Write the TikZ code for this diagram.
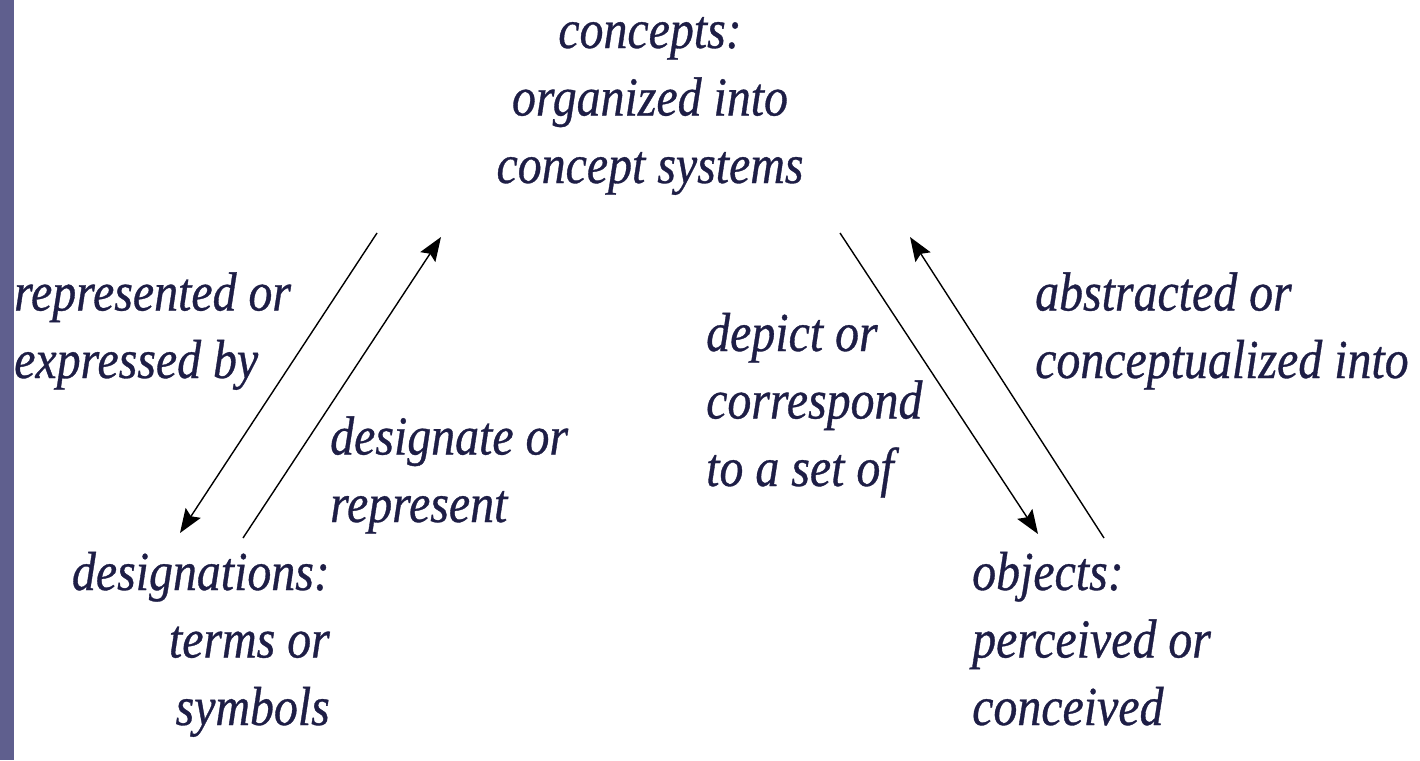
\documentclass[tikz,border=0pt]{standalone}
\usepackage{fontspec}
\setmainfont{Liberation Serif}[FakeStretch=0.87,FakeBold=0.6]
\usetikzlibrary{arrows.meta}
\definecolor{txtcol}{RGB}{30,30,70}
\definecolor{barcol}{RGB}{95,95,142}
\tikzset{
  lbl/.style={inner sep=0pt, text=txtcol, font=\fontsize{55}{67.5}\selectfont\itshape},
  link/.style={line width=1.4pt, -{Stealth[length=24pt,width=18pt,inset=4pt]}}
}
\begin{document}
\begin{tikzpicture}[x=1pt,y=-1pt]
\useasboundingbox (0,0) rectangle (1420,760);
\fill[white] (0,0) rectangle (1420,760);
\fill[barcol] (0,0) rectangle (14,760);
\node[lbl, anchor=base, align=center] (concepts) at (650,183) {concepts:\\organized into\\concept systems};
\node[lbl, anchor=base west, align=left] (repr) at (14,378) {represented or\\expressed by};
\node[lbl, anchor=base west, align=left] (desig) at (330,522) {designate or\\represent};
\node[lbl, anchor=base west, align=left] (depict) at (706,486) {depict or\\correspond\\to a set of};
\node[lbl, anchor=base west, align=left] (abstr) at (1035,378) {abstracted or\\conceptualized into};
\node[lbl, anchor=base east, align=right] (designations) at (330,725) {designations:\\terms or\\symbols};
\node[lbl, anchor=base west, align=left] (objects) at (972,725) {objects:\\perceived or\\conceived};
\coordinate (a1s) at (377,233);
\coordinate (a1e) at (180,533);
\coordinate (a2s) at (243,538);
\coordinate (a2e) at (441,237);
\coordinate (a3s) at (840,233);
\coordinate (a3e) at (1038,534);
\coordinate (a4s) at (1104,538);
\coordinate (a4e) at (910,237);
\draw[link] (a1s) -- (a1e);
\draw[link] (a2s) -- (a2e);
\draw[link] (a3s) -- (a3e);
\draw[link] (a4s) -- (a4e);
\end{tikzpicture}
\end{document}
